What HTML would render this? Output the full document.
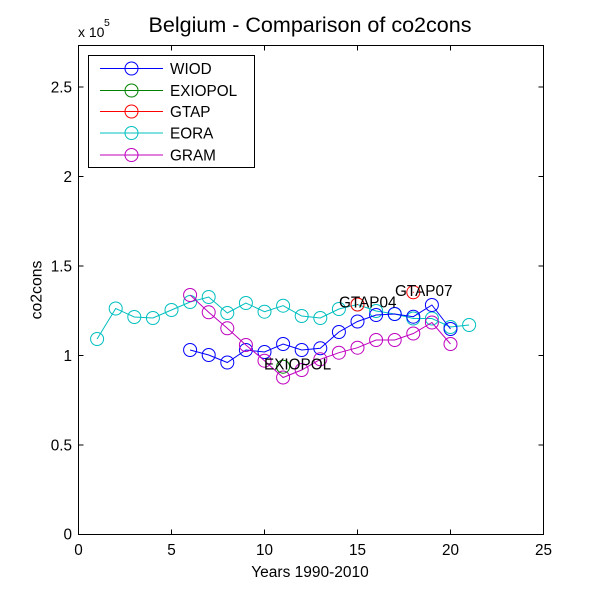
<!DOCTYPE html>
<html><head><meta charset="utf-8"><style>
html,body{margin:0;padding:0;background:#fff;}
svg{display:block;}
text{font-family:"Liberation Sans",Arial,sans-serif;fill:#000;}
</style></head><body>
<svg width="600" height="600" viewBox="0 0 600 600" xmlns="http://www.w3.org/2000/svg">
<rect x="0" y="0" width="600" height="600" fill="#fff"/>
<!-- title -->
<text x="310" y="32" font-size="21.3" text-anchor="middle" textLength="323" lengthAdjust="spacingAndGlyphs">Belgium - Comparison of co2cons</text>
<!-- exponent -->
<text x="78" y="37" font-size="14">x 10</text>
<text x="104" y="26" font-size="10.5">5</text>

<!-- axes box -->
<g stroke="#000" stroke-width="1" fill="none" shape-rendering="crispEdges">
<rect x="78.5" y="45.5" width="465" height="489"/>
<!-- x ticks bottom/top -->
<path d="M171.5 534.5V529.5M264.5 534.5V529.5M357.5 534.5V529.5M450.5 534.5V529.5
M171.5 45.5V50.5M264.5 45.5V50.5M357.5 45.5V50.5M450.5 45.5V50.5
M78.5 445H83.5M78.5 355.5H83.5M78.5 266H83.5M78.5 176.5H83.5M78.5 87H83.5
M543.5 445H538.5M543.5 355.5H538.5M543.5 266H538.5M543.5 176.5H538.5M543.5 87H538.5"/>
</g>

<!-- x tick labels -->
<g font-size="15.3" text-anchor="middle">
<text x="78.5" y="555">0</text>
<text x="171.5" y="555">5</text>
<text x="264.5" y="555">10</text>
<text x="357.5" y="555">15</text>
<text x="450.5" y="555">20</text>
<text x="543.5" y="555">25</text>
</g>
<!-- y tick labels -->
<g font-size="15.3" text-anchor="end">
<text x="72" y="539.5">0</text>
<text x="72" y="450.5">0.5</text>
<text x="72" y="361">1</text>
<text x="72" y="271.5">1.5</text>
<text x="72" y="182">2</text>
<text x="72" y="92.5">2.5</text>
</g>
<!-- axis labels -->
<text x="310" y="577" font-size="15.5" text-anchor="middle">Years 1990-2010</text>
<text transform="translate(41.5,290) rotate(-90)" font-size="15.8" text-anchor="middle">co2cons</text>

<!-- EORA -->
<g stroke="#00bfbf" fill="none" stroke-width="1">
<polyline points="97.1,339 115.7,308.5 134.3,317 152.9,318 171.5,310 190.1,302 208.7,297 227.3,313 245.9,303 264.5,311.7 283.1,305.7 301.7,316 320.3,318 338.9,309 357.5,304.5 376.1,311 394.7,314 413.3,318.5 431.9,318.5 450.5,327 469.1,325"/>
<circle cx="97.1" cy="339" r="6.5"/><circle cx="115.7" cy="308.5" r="6.5"/><circle cx="134.3" cy="317" r="6.5"/><circle cx="152.9" cy="318" r="6.5"/><circle cx="171.5" cy="310" r="6.5"/><circle cx="190.1" cy="302" r="6.5"/><circle cx="208.7" cy="297" r="6.5"/><circle cx="227.3" cy="313" r="6.5"/><circle cx="245.9" cy="303" r="6.5"/><circle cx="264.5" cy="311.7" r="6.5"/><circle cx="283.1" cy="305.7" r="6.5"/><circle cx="301.7" cy="316" r="6.5"/><circle cx="320.3" cy="318" r="6.5"/><circle cx="338.9" cy="309" r="6.5"/><circle cx="357.5" cy="304.5" r="6.5"/><circle cx="376.1" cy="311" r="6.5"/><circle cx="394.7" cy="314" r="6.5"/><circle cx="413.3" cy="318.5" r="6.5"/><circle cx="431.9" cy="318.5" r="6.5"/><circle cx="450.5" cy="327" r="6.5"/><circle cx="469.1" cy="325" r="6.5"/>
</g>

<!-- WIOD -->
<g stroke="#0000ff" fill="none" stroke-width="1">
<polyline points="190.1,350 208.7,355 227.3,362.5 245.9,350 264.5,352 283.1,344 301.7,350 320.3,348.3 338.9,332 357.5,321.5 376.1,315 394.7,314 413.3,316.7 431.9,305 450.5,329"/>
<circle cx="190.1" cy="350" r="6.5"/><circle cx="208.7" cy="355" r="6.5"/><circle cx="227.3" cy="362.5" r="6.5"/><circle cx="245.9" cy="350" r="6.5"/><circle cx="264.5" cy="352" r="6.5"/><circle cx="283.1" cy="344" r="6.5"/><circle cx="301.7" cy="350" r="6.5"/><circle cx="320.3" cy="348.3" r="6.5"/><circle cx="338.9" cy="332" r="6.5"/><circle cx="357.5" cy="321.5" r="6.5"/><circle cx="376.1" cy="315" r="6.5"/><circle cx="394.7" cy="314" r="6.5"/><circle cx="413.3" cy="316.7" r="6.5"/><circle cx="431.9" cy="305" r="6.5"/><circle cx="450.5" cy="329" r="6.5"/>
</g>

<!-- GRAM -->
<g stroke="#bf00bf" fill="none" stroke-width="1">
<polyline points="190.1,295 208.7,312.3 227.3,328.3 245.9,345 264.5,360.7 283.1,377.5 301.7,370 320.3,359.3 338.9,352.7 357.5,347.7 376.1,340 394.7,340 413.3,333.5 431.9,322.5 450.5,344"/>
<circle cx="190.1" cy="295" r="6.5"/><circle cx="208.7" cy="312.3" r="6.5"/><circle cx="227.3" cy="328.3" r="6.5"/><circle cx="245.9" cy="345" r="6.5"/><circle cx="264.5" cy="360.7" r="6.5"/><circle cx="283.1" cy="377.5" r="6.5"/><circle cx="301.7" cy="370" r="6.5"/><circle cx="320.3" cy="359.3" r="6.5"/><circle cx="338.9" cy="352.7" r="6.5"/><circle cx="357.5" cy="347.7" r="6.5"/><circle cx="376.1" cy="340" r="6.5"/><circle cx="394.7" cy="340" r="6.5"/><circle cx="413.3" cy="333.5" r="6.5"/><circle cx="431.9" cy="322.5" r="6.5"/><circle cx="450.5" cy="344" r="6.5"/>
</g>

<!-- EXIOPOL -->
<g stroke="#008000" fill="none" stroke-width="1">
<circle cx="283.1" cy="366.7" r="6.5"/>
</g>
<!-- GTAP -->
<g stroke="#ff0000" fill="none" stroke-width="1">
<circle cx="357.5" cy="304.5" r="6.5"/>
<circle cx="413.3" cy="292.3" r="6.5"/>
</g>
<rect x="357" y="304" width="1" height="1" fill="#ff0000"/>
<rect x="412.8" y="291.8" width="1" height="1" fill="#ff0000"/>

<!-- annotations -->
<g font-size="15.3">
<text x="264" y="369.5">EXIOPOL</text>
<text x="339" y="307.5">GTAP04</text>
<text x="395" y="296">GTAP07</text>
</g>

<!-- legend -->
<rect x="88.5" y="55.5" width="166" height="112" fill="#fff" stroke="#000" stroke-width="1" shape-rendering="crispEdges"/>
<g fill="none" stroke-width="1">
<g stroke="#0000ff"><line x1="100" y1="68.5" x2="163" y2="68.5"/><circle cx="131.5" cy="68.5" r="6.5"/></g>
<g stroke="#008000"><line x1="100" y1="90.5" x2="163" y2="90.5"/><circle cx="131.5" cy="90.5" r="6.5"/></g>
<g stroke="#ff0000"><line x1="100" y1="111.5" x2="163" y2="111.5"/><circle cx="131.5" cy="111.5" r="6.5"/></g>
<g stroke="#00bfbf"><line x1="100" y1="133" x2="163" y2="133"/><circle cx="131.5" cy="133" r="6.5"/></g>
<g stroke="#bf00bf"><line x1="100" y1="155" x2="163" y2="155"/><circle cx="131.5" cy="155" r="6.5"/></g>
</g>
<g font-size="15.3">
<text x="170" y="74">WIOD</text>
<text x="170" y="96">EXIOPOL</text>
<text x="170" y="117">GTAP</text>
<text x="170" y="138.5">EORA</text>
<text x="170" y="160.5">GRAM</text>
</g>
</svg>
</body></html>
